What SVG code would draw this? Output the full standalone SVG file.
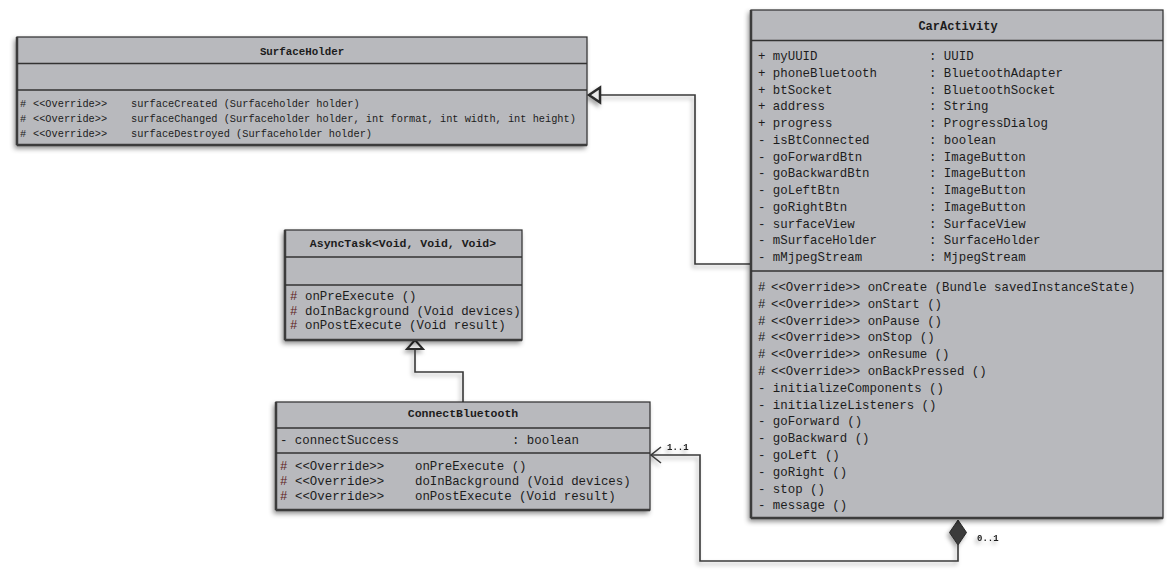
<svg xmlns="http://www.w3.org/2000/svg" width="1175" height="571" viewBox="0 0 1175 571">
<defs>
<filter id="sh" x="-10%" y="-10%" width="120%" height="125%">
<feDropShadow dx="-2" dy="3" stdDeviation="2.5" flood-color="#000" flood-opacity="0.45"/>
</filter>
<filter id="lsh" x="-10%" y="-10%" width="120%" height="120%">
<feDropShadow dx="-2" dy="3" stdDeviation="2" flood-color="#000" flood-opacity="0.35"/>
</filter>
</defs>
<style>
.box{fill:#b8b9bd;stroke:#2e2e2e;stroke-width:1.2}
.edge{fill:none;stroke:#3c3c3c;stroke-width:2.5}
.sep{stroke:#333;stroke-width:1.5}
text{font-family:"Liberation Mono","DejaVu Sans Mono",monospace;fill:#1c1c1c}
.t{font-weight:bold;text-anchor:middle}
.s{font-size:10.3px}
.m{font-size:12.4px}
.h{fill:#5e1d1d}
.ln{fill:none;stroke:#3a3a3a;stroke-width:1.6}
.lbl{font-size:9px;font-weight:bold}
</style>
<rect width="1175" height="571" fill="#fff"/>

<g id="connectors" filter="url(#lsh)">
<polyline class="ln" points="751,264 695,264 695,95 600,95"/>
<path d="M589,95 L600,87.5 L600,102.5 Z" fill="#e8e8e8" stroke="#2a2a2a" stroke-width="2.5" stroke-linejoin="miter"/>
<polyline class="ln" points="463,402 463,372 415,372 415,349"/>
<path d="M415,340 L407,349 L423,349 Z" fill="#e8e8e8" stroke="#2a2a2a" stroke-width="2"/>
<polyline class="ln" points="958,545 958,561 700,561 700,455 651,455"/>
<polyline class="ln" points="661,447 651,455 661,463"/>
<path d="M958,520 L966.5,532.5 L958,545 L949.5,532.5 Z" fill="#3a3a3a" stroke="#2a2a2a" stroke-width="1"/>
<text class="lbl" x="667" y="450">1..1</text>
<text class="lbl" x="977" y="541">0..1</text>
</g>

<g id="SurfaceHolder">
<rect class="box" x="17" y="37" width="570" height="108" filter="url(#sh)"/>
<line class="edge" x1="17" y1="37" x2="17" y2="145"/>
<line class="edge" x1="17" y1="145" x2="587" y2="145"/>
<line class="sep" x1="17" y1="63.5" x2="587" y2="63.5"/>
<line class="sep" x1="17" y1="90" x2="587" y2="90"/>
<text class="t s" x="302" y="55" style="font-size:10.8px">SurfaceHolder</text>
<text class="s" x="20" y="107">#</text><text class="s" x="33" y="107">&lt;&lt;Override&gt;&gt;</text><text class="s" x="131" y="107">surfaceCreated (Surfaceholder holder)</text>
<text class="s" x="20" y="122">#</text><text class="s" x="33" y="122">&lt;&lt;Override&gt;&gt;</text><text class="s" x="131" y="122">surfaceChanged (Surfaceholder holder, int format, int width, int height)</text>
<text class="s" x="20" y="137">#</text><text class="s" x="33" y="137">&lt;&lt;Override&gt;&gt;</text><text class="s" x="131" y="137">surfaceDestroyed (Surfaceholder holder)</text>
</g>

<g id="AsyncTask">
<rect class="box" x="285" y="230" width="237" height="110" filter="url(#sh)"/>
<line class="edge" x1="285" y1="230" x2="285" y2="340"/>
<line class="edge" x1="285" y1="340" x2="522" y2="340"/>
<line class="sep" x1="285" y1="257" x2="522" y2="257"/>
<line class="sep" x1="285" y1="285" x2="522" y2="285"/>
<text class="t m" x="403" y="247" style="font-size:11.5px">AsyncTask&lt;Void, Void, Void&gt;</text>
<text class="m h" x="290" y="300">#</text><text class="m" x="305" y="300">onPreExecute ()</text>
<text class="m h" x="290" y="314.5">#</text><text class="m" x="305" y="314.5">doInBackground (Void devices)</text>
<text class="m h" x="290" y="329">#</text><text class="m" x="305" y="329">onPostExecute (Void result)</text>
</g>

<g id="ConnectBluetooth">
<rect class="box" x="276" y="402" width="374" height="108" filter="url(#sh)"/>
<line class="edge" x1="276" y1="402" x2="276" y2="510"/>
<line class="edge" x1="276" y1="510" x2="650" y2="510"/>
<line class="sep" x1="276" y1="428" x2="650" y2="428"/>
<line class="sep" x1="276" y1="453" x2="650" y2="453"/>
<text class="t m" x="463" y="417" style="font-size:11.5px">ConnectBluetooth</text>
<text class="m" x="280" y="444">- connectSuccess</text><text class="m" x="512" y="444">: boolean</text>
<text class="m h" x="280" y="470">#</text><text class="m" x="295" y="470">&lt;&lt;Override&gt;&gt;</text><text class="m" x="415" y="470">onPreExecute ()</text>
<text class="m h" x="280" y="485">#</text><text class="m" x="295" y="485">&lt;&lt;Override&gt;&gt;</text><text class="m" x="415" y="485">doInBackground (Void devices)</text>
<text class="m h" x="280" y="500">#</text><text class="m" x="295" y="500">&lt;&lt;Override&gt;&gt;</text><text class="m" x="415" y="500">onPostExecute (Void result)</text>
</g>

<g id="CarActivity">
<rect class="box" x="751" y="10" width="412" height="508" filter="url(#sh)"/>
<line class="edge" x1="751" y1="10" x2="751" y2="518"/>
<line class="edge" x1="751" y1="518" x2="1163" y2="518"/>
<line class="sep" x1="751" y1="40.5" x2="1163" y2="40.5"/>
<line class="sep" x1="751" y1="271" x2="1163" y2="271"/>
<text class="t m" x="958" y="30" style="font-size:12px">CarActivity</text>
<g class="m">
<text class="m" x="758" y="60">+ myUUID</text><text class="m" x="929" y="60">: UUID</text>
<text class="m" x="758" y="76.75">+ phoneBluetooth</text><text class="m" x="929" y="76.75">: BluetoothAdapter</text>
<text class="m" x="758" y="93.5">+ btSocket</text><text class="m" x="929" y="93.5">: BluetoothSocket</text>
<text class="m" x="758" y="110.25">+ address</text><text class="m" x="929" y="110.25">: String</text>
<text class="m" x="758" y="127">+ progress</text><text class="m" x="929" y="127">: ProgressDialog</text>
<text class="m" x="758" y="143.75">- isBtConnected</text><text class="m" x="929" y="143.75">: boolean</text>
<text class="m" x="758" y="160.5">- goForwardBtn</text><text class="m" x="929" y="160.5">: ImageButton</text>
<text class="m" x="758" y="177.25">- goBackwardBtn</text><text class="m" x="929" y="177.25">: ImageButton</text>
<text class="m" x="758" y="194">- goLeftBtn</text><text class="m" x="929" y="194">: ImageButton</text>
<text class="m" x="758" y="210.75">- goRightBtn</text><text class="m" x="929" y="210.75">: ImageButton</text>
<text class="m" x="758" y="227.5">- surfaceView</text><text class="m" x="929" y="227.5">: SurfaceView</text>
<text class="m" x="758" y="244.25">- mSurfaceHolder</text><text class="m" x="929" y="244.25">: SurfaceHolder</text>
<text class="m" x="758" y="261">- mMjpegStream</text><text class="m" x="929" y="261">: MjpegStream</text>
<text class="m" x="758" y="291">#</text><text class="m" x="771" y="291">&lt;&lt;Override&gt;&gt; onCreate (Bundle savedInstanceState)</text>
<text class="m" x="758" y="307.8">#</text><text class="m" x="771" y="307.8">&lt;&lt;Override&gt;&gt; onStart ()</text>
<text class="m" x="758" y="324.6">#</text><text class="m" x="771" y="324.6">&lt;&lt;Override&gt;&gt; onPause ()</text>
<text class="m" x="758" y="341.4">#</text><text class="m" x="771" y="341.4">&lt;&lt;Override&gt;&gt; onStop ()</text>
<text class="m" x="758" y="358.2">#</text><text class="m" x="771" y="358.2">&lt;&lt;Override&gt;&gt; onResume ()</text>
<text class="m" x="758" y="375">#</text><text class="m" x="771" y="375">&lt;&lt;Override&gt;&gt; onBackPressed ()</text>
<text class="m" x="758" y="391.8">- initializeComponents ()</text>
<text class="m" x="758" y="408.6">- initializeListeners ()</text>
<text class="m" x="758" y="425.4">- goForward ()</text>
<text class="m" x="758" y="442.2">- goBackward ()</text>
<text class="m" x="758" y="459">- goLeft ()</text>
<text class="m" x="758" y="475.8">- goRight ()</text>
<text class="m" x="758" y="492.6">- stop ()</text>
<text class="m" x="758" y="509.4">- message ()</text>
</g>
</g>
</svg>
